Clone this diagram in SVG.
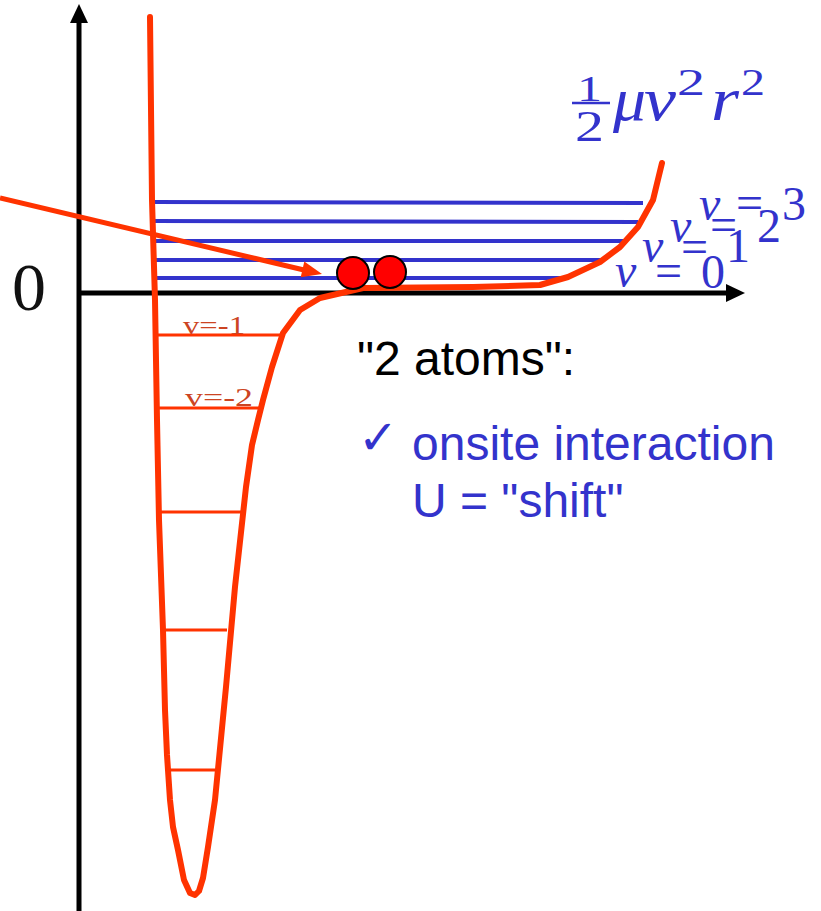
<svg xmlns="http://www.w3.org/2000/svg" width="821" height="911" viewBox="0 0 821 911">
<style>
.ax{stroke:#000;stroke-width:5;fill:none}
.curve{stroke:#ff3300;stroke-width:6;fill:none;stroke-linejoin:round;stroke-linecap:round}
.rung{stroke:#ff3300;stroke-width:3;fill:none}
.lvl{stroke:#3333cc;stroke-width:4;fill:none}
.blue{fill:#3333cc}
.serif{font-family:"Liberation Serif","Times New Roman",serif}
.sans{font-family:"Liberation Sans",Arial,sans-serif}
.vl{font-family:"Liberation Serif","Times New Roman",serif;font-size:48px;fill:#3333cc}
.neg{font-family:"Liberation Serif","Times New Roman",serif;font-size:26px;fill:#cc4422}
</style>
<rect width="821" height="911" fill="#fff"/>
<g id="axes">
<line class="ax" x1="79" y1="911" x2="79" y2="20"/>
<polygon points="79,4 70,23 88,23" fill="#000"/>
<line class="ax" x1="79" y1="293" x2="728" y2="293"/>
<polygon points="745,293 726,284 726,302" fill="#000"/>
<text id="zero" class="serif" x="12" y="310" font-size="68" fill="#111">0</text>
</g>
<g id="levels">
<line class="lvl" x1="155" y1="202" x2="643" y2="203"/>
<line class="lvl" x1="155" y1="221" x2="638" y2="222"/>
<line class="lvl" x1="153" y1="241" x2="627" y2="241"/>
<line class="lvl" x1="155" y1="260" x2="603" y2="260"/>
<line class="lvl" x1="155" y1="278" x2="565" y2="278"/>
</g>
<g id="bound-levels">
<line class="rung" x1="156" y1="335" x2="284" y2="335"/>
<line class="rung" x1="157" y1="408" x2="259" y2="408"/>
<line class="rung" x1="159" y1="512" x2="241" y2="512"/>
<line class="rung" x1="162" y1="630" x2="227" y2="630"/>
<line class="rung" x1="169" y1="770" x2="215" y2="770"/>
<text class="neg" x="183" y="334" textLength="62" lengthAdjust="spacingAndGlyphs">v=-1</text>
<text class="neg" x="185" y="406" textLength="68" lengthAdjust="spacingAndGlyphs">v=-2</text>
</g>
<g id="potential">
<path class="curve" d="M150,17 L152,200 L155,300 L157,420 L159,520 L163,630 L165,710 L167,755 L170,800 L173,827 L178,850 L184,880 L190,893 L195,895 L199,891 L203,878 L208,847 L215,800 L226,687 L235,587 L246,487 L252,445 L258,420 L263,400 L272,367 L283,333 L300,310 L320,298 L363,288 L473,287 L540,285 L568,277 L600,262 L620,247 L638,227 L653,200 L662,163"/>
</g>
<g id="connectors">
<line x1="0" y1="198" x2="304" y2="270" stroke="#ff3300" stroke-width="5"/>
<polygon points="322,274 300.7,277.2 304.3,261.6" fill="#ff3300"/>
</g>
<g id="atoms">
<circle cx="353" cy="273" r="16" fill="#ff0000" stroke="#000" stroke-width="2"/>
<circle cx="390" cy="272" r="16" fill="#ff0000" stroke="#000" stroke-width="2"/>
</g>
<g id="formula" class="serif blue">
<text x="577" y="101" font-size="36" textLength="25" lengthAdjust="spacingAndGlyphs">1</text>
<line x1="572" y1="103" x2="610" y2="103" stroke="#3333cc" stroke-width="2.5"/>
<text x="575" y="141" font-size="44" textLength="29" lengthAdjust="spacingAndGlyphs">2</text>
<text x="613" y="120" font-size="62" font-style="italic" textLength="33" lengthAdjust="spacingAndGlyphs">μ</text>
<text x="644" y="120" font-size="62" font-style="italic" textLength="32" lengthAdjust="spacingAndGlyphs">v</text>
<text x="677" y="95" font-size="38" textLength="28" lengthAdjust="spacingAndGlyphs">2</text>
<text x="711" y="120" font-size="62" font-style="italic" textLength="28" lengthAdjust="spacingAndGlyphs">r</text>
<text x="741" y="95" font-size="38" textLength="24" lengthAdjust="spacingAndGlyphs">2</text>
</g>
<g id="vlabels">
<text class="vl"><tspan x="615" y="287" font-style="italic">v</tspan><tspan x="655" y="287">=</tspan><tspan x="701" y="288">0</tspan></text>
<text class="vl"><tspan x="642" y="262" font-style="italic">v</tspan><tspan x="681" y="263">=</tspan><tspan x="726" y="262">1</tspan></text>
<text class="vl"><tspan x="670" y="242" font-style="italic">v</tspan><tspan x="710" y="241">=</tspan><tspan x="757" y="242">2</tspan></text>
<text class="vl"><tspan x="699" y="220" font-style="italic">v</tspan><tspan x="736" y="219">=</tspan><tspan x="782" y="220">3</tspan></text>
</g>
<g id="notes">
<text class="sans" x="357" y="375" font-size="48" fill="#000">"2 atoms":</text>
<text x="358" y="454" font-size="48" font-weight="bold" fill="#3333cc" font-family="DejaVu Sans, sans-serif">✓</text>
<text class="sans" x="412" y="460" font-size="48" fill="#3333cc">onsite interaction</text>
<text class="sans" x="412" y="517" font-size="48" fill="#3333cc">U = "shift"</text>
</g>
</svg>
